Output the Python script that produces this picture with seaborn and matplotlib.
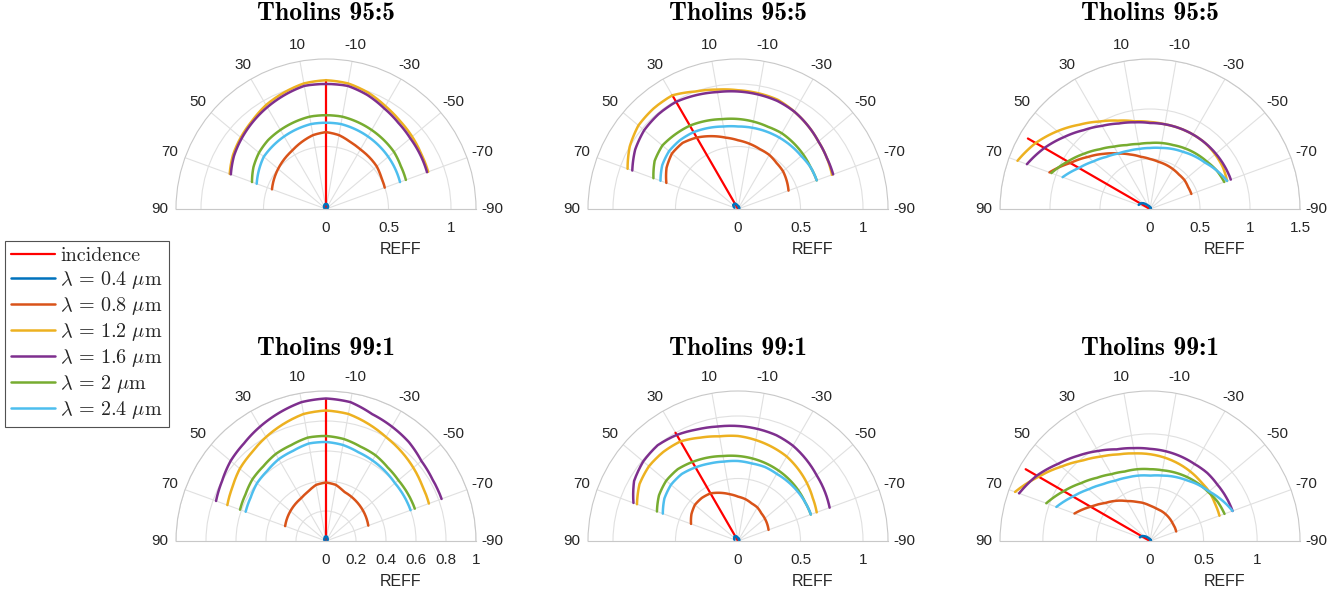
import numpy as np
import matplotlib
matplotlib.use("Agg")
import matplotlib.pyplot as plt
import matplotlib.transforms as mtransforms
from matplotlib.font_manager import FontProperties
import seaborn as sns

# ---------------- data ----------------
THETA_DEG = [70, 60, 50, 40, 30, 20, 10, 0, -10, -20, -30, -40, -50, -60, -70]
WAVELENGTHS = ["0.4", "0.8", "1.2", "1.6", "2", "2.4"]
COLORS = ["#0072BD", "#D95319", "#EDB120", "#7E2F8E", "#77AC30", "#4DBEEE"]
TITLES = ["Tholins 95:5", "Tholins 95:5", "Tholins 95:5",
          "Tholins 99:1", "Tholins 99:1", "Tholins 99:1"]
INCIDENCE_DEG = [0, 30, 60, 0, 30, 60]
R_MAX = [1.2, 1.2, 1.5, 1.0, 1.2, 1.4]
R_TICKS = [[0, 0.5, 1], [0, 0.5, 1], [0, 0.5, 1, 1.5],
           [0, 0.2, 0.4, 0.6, 0.8, 1], [0, 0.5, 1], [0, 0.5, 1]]
R_TICK_LABELS = [["0", "0.5", "1"], ["0", "0.5", "1"], ["0", "0.5", "1", "1.5"],
                 ["0", "0.2", "0.4", "0.6", "0.8", "1"], ["0", "0.5", "1"], ["0", "0.5", "1"]]
THETA_TICKS = [90, 70, 50, 30, 10, -10, -30, -50, -70, -90]

# Panel 1: Tholins 95:5, incidence 0
p1_w04 = [0.01, 0.015, 0.02, 0.025, 0.03, 0.035, 0.04, 0.04, 0.04, 0.035, 0.03, 0.025, 0.02, 0.015, 0.01]
p1_w08 = [0.46, 0.48, 0.50, 0.52, 0.54, 0.57, 0.60, 0.615, 0.60, 0.57, 0.55, 0.54, 0.53, 0.51, 0.50]
p1_w12 = [0.82, 0.86, 0.89, 0.92, 0.96, 0.99, 1.02, 1.03, 1.02, 0.99, 0.95, 0.92, 0.90, 0.88, 0.87]
p1_w16 = [0.81, 0.85, 0.88, 0.91, 0.94, 0.97, 1.00, 1.00, 1.00, 0.97, 0.93, 0.90, 0.88, 0.87, 0.86]
p1_w20 = [0.63, 0.67, 0.70, 0.72, 0.73, 0.74, 0.75, 0.75, 0.75, 0.74, 0.73, 0.72, 0.71, 0.69, 0.68]
p1_w24 = [0.59, 0.62, 0.65, 0.66, 0.67, 0.68, 0.69, 0.69, 0.69, 0.68, 0.67, 0.66, 0.65, 0.64, 0.63]

# Panel 2: Tholins 95:5, incidence 30
p2_w04 = [0.03, 0.04, 0.05, 0.05, 0.05, 0.04, 0.03, 0.025, 0.02, 0.02, 0.015, 0.015, 0.01, 0.01, 0.01]
p2_w08 = [0.61, 0.66, 0.69, 0.69, 0.66, 0.62, 0.58, 0.55, 0.53, 0.51, 0.50, 0.48, 0.47, 0.45, 0.43]
p2_w12 = [0.94, 1.00, 1.04, 1.05, 1.05, 1.00, 0.97, 0.95, 0.94, 0.93, 0.90, 0.87, 0.84, 0.82, 0.80]
p2_w16 = [0.90, 0.95, 0.98, 0.99, 0.99, 0.97, 0.95, 0.94, 0.93, 0.92, 0.90, 0.87, 0.84, 0.82, 0.81]
p2_w20 = [0.72, 0.77, 0.79, 0.78, 0.77, 0.75, 0.73, 0.72, 0.71, 0.70, 0.70, 0.69, 0.68, 0.67, 0.67]
p2_w24 = [0.66, 0.70, 0.72, 0.72, 0.71, 0.69, 0.67, 0.66, 0.66, 0.66, 0.66, 0.66, 0.66, 0.67, 0.67]

# Panel 3: Tholins 95:5, incidence 60
p3_w04 = [0.12, 0.11, 0.09, 0.06, 0.04, 0.03, 0.02, 0.02, 0.015, 0.015, 0.01, 0.01, 0.01, 0.01, 0.01]
p3_w08 = [1.07, 0.92, 0.81, 0.72, 0.64, 0.58, 0.53, 0.50, 0.48, 0.47, 0.46, 0.45, 0.45, 0.44, 0.44]
p3_w12 = [1.41, 1.32, 1.21, 1.10, 1.01, 0.94, 0.89, 0.87, 0.86, 0.86, 0.86, 0.86, 0.85, 0.84, 0.82]
p3_w16 = [1.31, 1.22, 1.12, 1.03, 0.96, 0.91, 0.88, 0.86, 0.86, 0.86, 0.86, 0.86, 0.86, 0.86, 0.86]
p3_w20 = [1.05, 0.95, 0.86, 0.78, 0.72, 0.68, 0.66, 0.66, 0.67, 0.68, 0.70, 0.72, 0.74, 0.77, 0.79]
p3_w24 = [0.93, 0.82, 0.74, 0.68, 0.64, 0.62, 0.61, 0.61, 0.62, 0.64, 0.66, 0.69, 0.72, 0.77, 0.82]

# Panel 4: Tholins 99:1, incidence 0
p4_w04 = [0.01, 0.012, 0.015, 0.018, 0.02, 0.025, 0.03, 0.03, 0.03, 0.025, 0.02, 0.018, 0.015, 0.012, 0.01]
p4_w08 = [0.29, 0.30, 0.31, 0.32, 0.33, 0.35, 0.38, 0.39, 0.38, 0.35, 0.34, 0.33, 0.32, 0.31, 0.30]
p4_w12 = [0.70, 0.72, 0.75, 0.77, 0.80, 0.83, 0.86, 0.87, 0.86, 0.83, 0.80, 0.78, 0.76, 0.74, 0.73]
p4_w16 = [0.78, 0.80, 0.83, 0.85, 0.88, 0.91, 0.94, 0.95, 0.94, 0.90, 0.88, 0.86, 0.83, 0.82, 0.82]
p4_w20 = [0.61, 0.62, 0.64, 0.65, 0.67, 0.68, 0.70, 0.70, 0.69, 0.67, 0.66, 0.64, 0.63, 0.63, 0.63]
p4_w24 = [0.57, 0.58, 0.60, 0.61, 0.63, 0.64, 0.66, 0.66, 0.65, 0.63, 0.62, 0.61, 0.60, 0.60, 0.60]

# Panel 5: Tholins 99:1, incidence 30
p5_w04 = [0.03, 0.035, 0.04, 0.045, 0.045, 0.04, 0.03, 0.025, 0.02, 0.02, 0.015, 0.015, 0.01, 0.01, 0.01]
p5_w08 = [0.40, 0.43, 0.45, 0.45, 0.44, 0.41, 0.38, 0.355, 0.34, 0.32, 0.31, 0.29, 0.28, 0.27, 0.26]
p5_w12 = [0.86, 0.91, 0.93, 0.93, 0.92, 0.88, 0.85, 0.84, 0.82, 0.80, 0.78, 0.75, 0.72, 0.69, 0.67]
p5_w16 = [0.89, 0.96, 0.99, 1.00, 0.98, 0.95, 0.93, 0.92, 0.91, 0.90, 0.88, 0.85, 0.82, 0.80, 0.78]
p5_w20 = [0.69, 0.73, 0.75, 0.75, 0.73, 0.71, 0.69, 0.68, 0.67, 0.66, 0.65, 0.64, 0.63, 0.62, 0.62]
p5_w24 = [0.64, 0.68, 0.70, 0.70, 0.68, 0.66, 0.645, 0.64, 0.63, 0.63, 0.62, 0.62, 0.62, 0.62, 0.62]

# Panel 6: Tholins 99:1, incidence 60
p6_w04 = [0.10, 0.09, 0.07, 0.05, 0.035, 0.025, 0.02, 0.015, 0.015, 0.01, 0.01, 0.01, 0.01, 0.01, 0.01]
p6_w08 = [0.75, 0.64, 0.55, 0.49, 0.43, 0.39, 0.36, 0.33, 0.31, 0.30, 0.29, 0.28, 0.27, 0.265, 0.26]
p6_w12 = [1.34, 1.20, 1.08, 0.98, 0.91, 0.86, 0.83, 0.81, 0.79, 0.77, 0.75, 0.73, 0.72, 0.70, 0.69]
p6_w16 = [1.30, 1.22, 1.12, 1.04, 0.97, 0.91, 0.88, 0.86, 0.85, 0.84, 0.83, 0.83, 0.82, 0.82, 0.82]
p6_w20 = [1.03, 0.93, 0.84, 0.77, 0.72, 0.69, 0.68, 0.67, 0.67, 0.68, 0.69, 0.70, 0.71, 0.73, 0.74]
p6_w24 = [0.93, 0.83, 0.75, 0.69, 0.65, 0.63, 0.62, 0.61, 0.62, 0.64, 0.66, 0.69, 0.72, 0.77, 0.82]

PANELS = [
    [p1_w04, p1_w08, p1_w12, p1_w16, p1_w20, p1_w24],
    [p2_w04, p2_w08, p2_w12, p2_w16, p2_w20, p2_w24],
    [p3_w04, p3_w08, p3_w12, p3_w16, p3_w20, p3_w24],
    [p4_w04, p4_w08, p4_w12, p4_w16, p4_w20, p4_w24],
    [p5_w04, p5_w08, p5_w12, p5_w16, p5_w20, p5_w24],
    [p6_w04, p6_w08, p6_w12, p6_w16, p6_w20, p6_w24],
]

# ---------------- style ----------------
sns.set_style("white")
plt.rcParams["font.family"] = ["Liberation Sans", "DejaVu Sans"]
plt.rcParams["mathtext.fontset"] = "cm"
plt.rcParams["axes.unicode_minus"] = False

FIG_W, FIG_H = 1342, 597
fig = plt.figure(figsize=(FIG_W / 100, FIG_H / 100), dpi=100)

COL_CENTER_PX = [326, 738, 1150]
ROW_CENTER_PX = [209, 541]
TITLE_OFFSET_PX = [46, 43]
RADIUS_PX = 150

TEXT_COLOR = "#262626"
GRID_COLOR = "#e0e0e0"
SPINE_COLOR = "#c8c8c8"

title_font = FontProperties(family="cmb10", size=18.5)
theta_rad = np.deg2rad(THETA_DEG)

axes = []
for i in range(6):
    row, col = divmod(i, 3)
    cx, cy = COL_CENTER_PX[col], ROW_CENTER_PX[row]
    side = 2 * RADIUS_PX
    # square axes box; the half-disc wedge is centred vertically inside it
    left = (cx - RADIUS_PX) / FIG_W
    bottom = (FIG_H - (cy + RADIUS_PX / 2)) / FIG_H
    ax = fig.add_axes([left, bottom, side / FIG_W, side / FIG_H], projection="polar")
    axes.append(ax)
    ax.set_theta_zero_location("N")
    ax.set_theta_direction(1)
    ax.set_thetamin(-90)
    ax.set_thetamax(90)

    # incidence line, length = maximum of the curves
    inc = np.deg2rad(INCIDENCE_DEG[i])
    rlen = max(max(v) for v in PANELS[i])
    sns.lineplot(x=[inc, inc], y=[0, rlen], ax=ax, color="#FF0000", lw=1.6,
                 estimator=None, sort=False, legend=False, label="incidence")
    for k, vals in enumerate(PANELS[i]):
        sns.lineplot(x=theta_rad, y=vals, ax=ax, color=COLORS[k], lw=1.8,
                     estimator=None, sort=False, legend=False,
                     label=r"$\lambda\,=\,%s\ \mu$m" % WAVELENGTHS[k])
    # draw segments between samples as polar arcs (linear in theta and r)
    for line in ax.get_lines():
        line.get_path()._interpolation_steps = 24
    ax.set_xlabel("")
    ax.set_ylabel("")

    ax.set_rlim(0, R_MAX[i])
    ax.set_rticks(R_TICKS[i])
    ax.set_yticklabels([])
    ax.set_thetagrids(THETA_TICKS, labels=[str(t) for t in THETA_TICKS])
    ax.tick_params(axis="x", length=0, pad=5, labelsize=11, labelcolor=TEXT_COLOR)
    ax.tick_params(axis="y", length=0)
    ax.grid(True, color=GRID_COLOR, lw=0.8)
    for sp in ["polar", "start", "end"]:
        ax.spines[sp].set_color(SPINE_COLOR)
        ax.spines[sp].set_linewidth(0.8)

    # radial tick labels below the right half baseline
    below = ax.transData + mtransforms.ScaledTranslation(0, -19 / 100, fig.dpi_scale_trans)
    for rv, lab in zip(R_TICKS[i], R_TICK_LABELS[i]):
        ax.text(np.deg2rad(-90), rv, lab, transform=below, ha="center", va="center",
                fontsize=11, color=TEXT_COLOR)
    below2 = ax.transData + mtransforms.ScaledTranslation(0, -41 / 100, fig.dpi_scale_trans)
    ax.text(np.deg2rad(-90), R_MAX[i] / 2, "REFF", transform=below2, ha="center",
            va="center", fontsize=11.5, color=TEXT_COLOR)

    # title above the wedge top (wedge top sits at axes fraction 0.75)
    above = ax.transAxes + mtransforms.ScaledTranslation(0, TITLE_OFFSET_PX[row] / 100,
                                                         fig.dpi_scale_trans)
    ax.text(0.5, 0.75, TITLES[i], transform=above, ha="center", va="center",
            fontproperties=title_font, color="black")

handles, labels = axes[0].get_legend_handles_labels()
leg = fig.legend(handles, labels, loc="upper left",
                 bbox_to_anchor=(5 / FIG_W, 1 - 241 / FIG_H),
                 prop=FontProperties(family="cmr10", size=14.5),
                 frameon=True, fancybox=False, edgecolor=TEXT_COLOR,
                 handlelength=2.2, handletextpad=0.25, borderpad=0.3,
                 labelspacing=0.2, borderaxespad=0)
leg.get_frame().set_linewidth(0.8)

fig.savefig("out.png", dpi=100)
